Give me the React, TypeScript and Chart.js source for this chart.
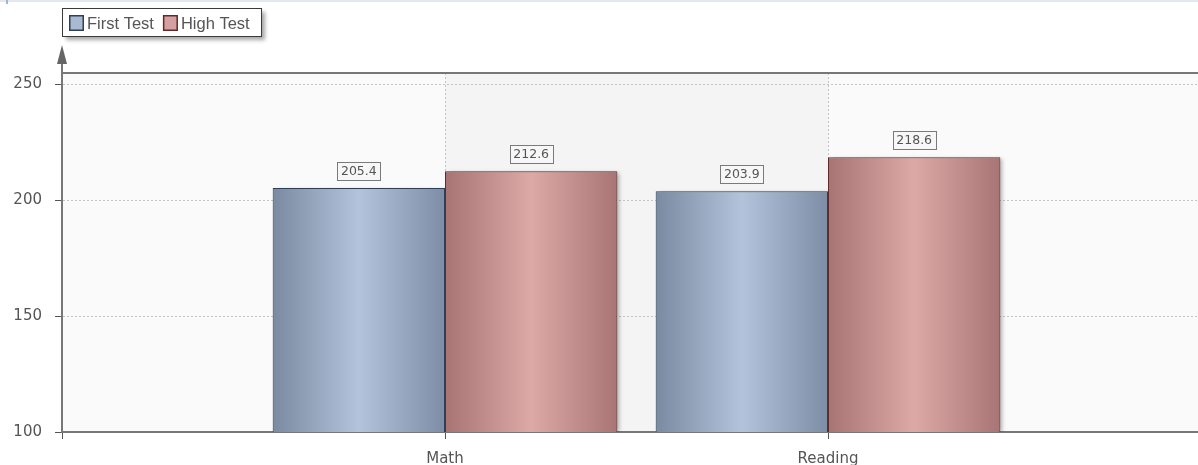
import React, { useEffect, useRef } from 'react';
import { Chart, registerables } from 'chart.js';

Chart.register(...registerables);

const categories = ['Math', 'Reading'];
const seriesNames = ['First Test', 'High Test'];
const firstTest = [205.4, 203.9];
const highTest = [212.6, 218.6];
const yTickValues = [100, 150, 200, 250];
const yMin = 100;
const yMax = 255;

const W = 1220;
const H = 465;

const palettes = [
  { stops: ['#7a8aa1', '#b2c3db', '#7c8da5'], border: '#2e3f58', swatch: '#a9b9d1' },
  { stops: ['#a87373', '#dda9a7', '#a97474'], border: '#5e2b2b', swatch: '#d6a0a0' },
];

const AXIS_FONT = 'DejaVu Sans';
const TEXT_COLOR = '#555555';

function barFill(di: number) {
  return (ctx: any) => {
    const chart = ctx.chart;
    const xs = chart.scales && chart.scales.x;
    const p = palettes[di];
    if (!xs || ctx.type !== 'data') return p.stops[1];
    const step = xs.getPixelForValue(1) - xs.getPixelForValue(0);
    const w = (step * 0.9) / 2;
    const c = xs.getPixelForValue(ctx.dataIndex);
    const left = di === 0 ? c - w : c;
    if (!isFinite(left) || !isFinite(w) || w <= 0) return p.stops[1];
    const g = chart.ctx.createLinearGradient(left, 0, left + w, 0);
    g.addColorStop(0, p.stops[0]);
    g.addColorStop(0.5, p.stops[1]);
    g.addColorStop(1, p.stops[2]);
    return g;
  };
}

const decorPlugin = {
  id: 'decor',
  beforeDraw(chart: any) {
    const { ctx, chartArea, scales } = chart;
    ctx.save();
    ctx.fillStyle = '#ffffff';
    ctx.fillRect(0, 0, chart.width, chart.height);
    ctx.fillStyle = '#e3e7ee';
    ctx.fillRect(0, 0, chart.width, 2);
    ctx.fillStyle = '#9db4dc';
    ctx.fillRect(6, 0, 2, 4);
    ctx.fillStyle = '#fafafa';
    ctx.fillRect(chartArea.left, chartArea.top, chartArea.right - chartArea.left, chartArea.bottom - chartArea.top);
    const x1 = scales.x.getPixelForValue(1);
    const x2 = scales.x.getPixelForValue(2);
    ctx.fillStyle = '#f4f4f4';
    ctx.fillRect(x1, chartArea.top, x2 - x1, chartArea.bottom - chartArea.top);
    ctx.restore();
  },
  beforeDatasetsDraw(chart: any) {
    const { ctx, chartArea } = chart;
    ctx.save();
    ctx.beginPath();
    ctx.rect(chartArea.left, chartArea.top, chartArea.right - chartArea.left, chartArea.bottom - chartArea.top);
    ctx.clip();
    ctx.shadowColor = 'rgba(0,0,0,0.3)';
    ctx.shadowBlur = 4;
    ctx.shadowOffsetX = 3;
    ctx.shadowOffsetY = 1;
    ctx.fillStyle = '#999999';
    chart.data.datasets.forEach((_: any, di: number) => {
      const meta = chart.getDatasetMeta(di);
      meta.data.forEach((el: any, i: number) => {
        const v = chart.data.datasets[di].data[i];
        if (v == null) return;
        const { x, y, width } = el.getProps(['x', 'y', 'width'], true);
        ctx.fillRect(x - width / 2 + 1, y + 1, width - 2, chartArea.bottom - y - 2);
      });
    });
    ctx.restore();
  },
  afterDatasetsDraw(chart: any) {
    const ctx = chart.ctx;
    ctx.save();
    ctx.font = `12.5px "${AXIS_FONT}"`;
    ctx.textAlign = 'center';
    ctx.textBaseline = 'middle';
    chart.data.datasets.forEach((ds: any, di: number) => {
      const meta = chart.getDatasetMeta(di);
      meta.data.forEach((el: any, i: number) => {
        const v = ds.data[i];
        if (v == null) return;
        const { x, y } = el.getProps(['x', 'y'], true);
        const txt = v.toFixed(1);
        const tw = ctx.measureText(txt).width;
        const bw = Math.round(tw + 7);
        const bh = 18;
        const bx = Math.round(x - bw / 2) + 0.5;
        const by = Math.round(y - 8 - bh) + 0.5;
        ctx.fillStyle = '#f7f7f7';
        ctx.fillRect(bx, by, bw, bh);
        ctx.strokeStyle = '#7a7a7a';
        ctx.lineWidth = 1;
        ctx.strokeRect(bx, by, bw, bh);
        ctx.fillStyle = TEXT_COLOR;
        ctx.fillText(txt, x, by + bh / 2 + 0.5);
      });
    });
    ctx.restore();
  },
  afterDraw(chart: any) {
    const { ctx, chartArea } = chart;
    ctx.save();
    ctx.strokeStyle = '#777777';
    ctx.lineWidth = 2;
    ctx.beginPath();
    ctx.moveTo(chartArea.left, chartArea.top);
    ctx.lineTo(chartArea.right, chartArea.top);
    ctx.stroke();
    const ax = chartArea.left;
    ctx.beginPath();
    ctx.moveTo(ax, chartArea.top);
    ctx.lineTo(ax, 60);
    ctx.stroke();
    ctx.fillStyle = '#666666';
    ctx.beginPath();
    ctx.moveTo(ax, 45);
    ctx.lineTo(ax - 5, 64);
    ctx.lineTo(ax + 5, 64);
    ctx.closePath();
    ctx.fill();

    const lx = 62.5, ly = 8.5, lw = 199, lh = 28;
    ctx.save();
    ctx.shadowColor = 'rgba(0,0,0,0.35)';
    ctx.shadowBlur = 4;
    ctx.shadowOffsetX = 3;
    ctx.shadowOffsetY = 3;
    ctx.fillStyle = '#ffffff';
    ctx.fillRect(lx, ly, lw, lh);
    ctx.restore();
    ctx.strokeStyle = '#3a3a3a';
    ctx.lineWidth = 1;
    ctx.strokeRect(lx, ly, lw, lh);
    ctx.font = '16.5px "Liberation Sans"';
    ctx.textAlign = 'left';
    ctx.textBaseline = 'alphabetic';
    let cx = 69;
    seriesNames.forEach((name, di) => {
      const p = palettes[di];
      ctx.fillStyle = p.swatch;
      ctx.fillRect(cx, 15, 15, 16);
      ctx.strokeStyle = p.border;
      ctx.lineWidth = 1.5;
      ctx.strokeRect(cx + 0.75, 15.75, 13.5, 14.5);
      ctx.fillStyle = TEXT_COLOR;
      ctx.fillText(name, cx + 18, 29);
      cx += 18 + ctx.measureText(name).width + 9;
    });
    ctx.restore();
  },
};

export default function App() {
  const ref = useRef<HTMLCanvasElement | null>(null);

  useEffect(() => {
    if (!ref.current) return;
    const labels = ['', ...categories, ''];
    const series = [firstTest, highTest];
    const chart = new Chart(ref.current, {
      type: 'bar',
      data: {
        labels,
        datasets: series.map((vals, di) => ({
          label: seriesNames[di],
          data: [null, ...vals, null] as any,
          backgroundColor: barFill(di) as any,
          borderColor: palettes[di].border,
          borderWidth: 1,
          borderSkipped: false,
          barPercentage: 1,
          categoryPercentage: 0.9,
        })),
      },
      options: {
        responsive: false,
        animation: false,
        devicePixelRatio: 1,
        layout: { padding: { left: 0, top: 73, right: W - 1211, bottom: 0 } },
        plugins: {
          legend: { display: false },
          tooltip: { enabled: false },
        },
        scales: {
          x: {
            type: 'category',
            offset: false,
            afterFit(scale: any) {
              scale.height = H - 432;
              scale.paddingLeft = 0;
              scale.paddingRight = 0;
            },
            grid: {
              color: '#c4c4c4',
              lineWidth: 1,
              tickLength: 7,
              tickColor: '#555555',
              tickBorderDash: [],
              offset: false,
            },
            border: { display: true, color: '#777777', width: 2, dash: [2, 2] },
            ticks: {
              padding: 11,
              color: TEXT_COLOR,
              font: { family: AXIS_FONT, size: 15 },
              maxRotation: 0,
              autoSkip: false,
            },
          },
          y: {
            type: 'linear',
            min: yMin,
            max: yMax,
            afterBuildTicks(scale: any) {
              scale.ticks = yTickValues.map((v) => ({ value: v }));
            },
            afterFit(scale: any) {
              scale.width = 62;
              scale.paddingTop = 0;
              scale.paddingBottom = 0;
            },
            grid: {
              color: '#c4c4c4',
              lineWidth: 1,
              tickLength: 7,
              tickColor: '#555555',
              tickBorderDash: [],
            },
            border: { display: true, color: '#777777', width: 2, dash: [2, 2] },
            ticks: {
              padding: 13,
              color: TEXT_COLOR,
              font: { family: AXIS_FONT, size: 15 },
            },
          },
        },
      },
      plugins: [decorPlugin],
    });
    return () => chart.destroy();
  }, []);

  return (
    <div
      style={{
        position: 'fixed',
        left: 0,
        top: 0,
        width: 1198,
        height: 465,
        overflow: 'hidden',
        background: '#ffffff',
      }}
    >
      <canvas ref={ref} width={W} height={H} style={{ display: 'block', width: W, height: H }} />
    </div>
  );
}
